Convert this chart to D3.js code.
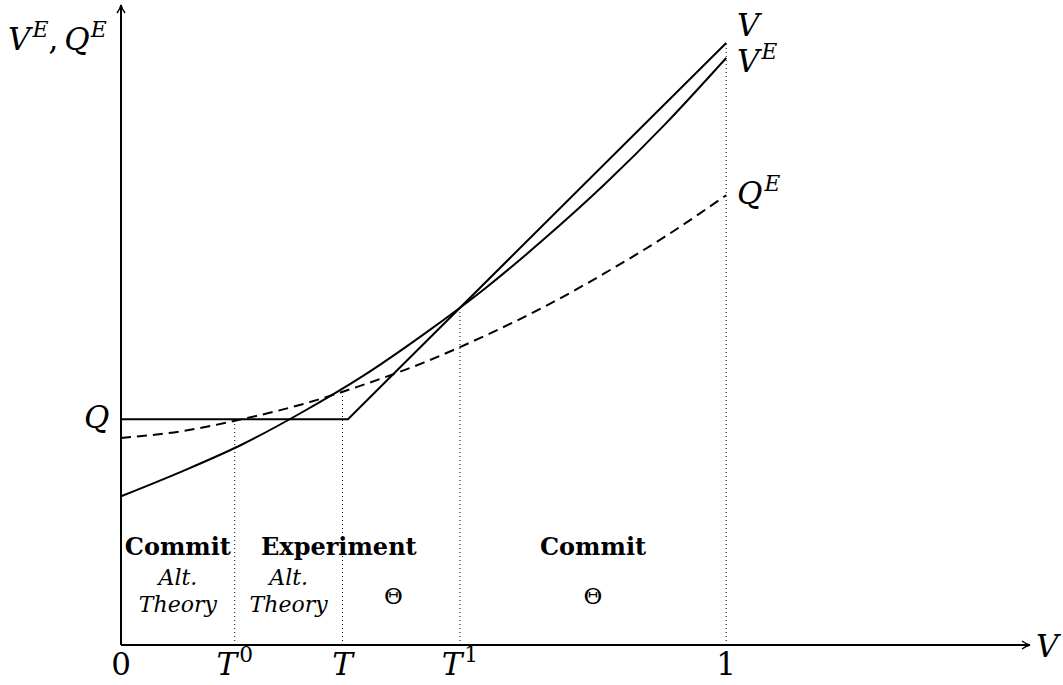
<!DOCTYPE html>
<html>
<head>
<script src="https://cdn.jsdelivr.net/npm/d3@7"></script>
<style>
  body { margin: 0; background: #fff; }
  text { font-family: "DejaVu Serif", serif; fill: #000; }
  .m { font-style: italic; }
</style>
</head>
<body>
<div id="chart"></div>
<script>
// values (x in [0,1], same units on y)
var xs   = [0, 0.1, 0.2, 0.3, 0.4, 0.5, 0.6, 0.7, 0.8, 0.9, 1.0];
var vE   = [0.247, 0.288, 0.333, 0.387, 0.447, 0.516, 0.591, 0.675, 0.766, 0.866, 0.975];
var qE   = [0.344, 0.355, 0.375, 0.400, 0.432, 0.469, 0.513, 0.562, 0.618, 0.679, 0.747];
var Q = 0.375;
var vX = [0, Q, 1];
var vY = [Q, Q, 1];

// thresholds on the x axis and how high their dotted guides go
var tickVals = [0.188, 0.366, 0.560, 1];
var tickNames = [["T","0"], ["T",""], ["T","1"], ["1",""]];
var guideTop = [Q, 0.425, 0.555, 1.0];

var regionX = [0.094, 0.36, 0.78];
var regionHead = ["Commit", "Experiment", "Commit"];

var width = 1063, height = 685;

var svg = d3.select("#chart").append("svg")
    .attr("width", width).attr("height", height);

var x = d3.scaleLinear().domain([0, 1.502]).range([121, 1030]);
var y = d3.scaleLinear().domain([0, 1.063]).range([645, 5]);

svg.append("defs").append("marker")
    .attr("id", "arr").attr("viewBox", "0 0 10 10")
    .attr("refX", 9).attr("refY", 5)
    .attr("markerWidth", 10).attr("markerHeight", 10)
    .attr("markerUnits", "userSpaceOnUse")
    .attr("orient", "auto")
  .append("path")
    .attr("d", "M1,1 Q5,4 9,5 Q5,6 1,9")
    .attr("fill", "none").attr("stroke", "#000").attr("stroke-width", 1.4);

// dotted guides
svg.selectAll(".guide").data(tickVals).enter().append("line")
    .attr("x1", function(d){ return x(d); }).attr("x2", function(d){ return x(d); })
    .attr("y1", y(0)).attr("y2", function(d, i){ return y(guideTop[i]); })
    .attr("stroke", "#000").attr("stroke-width", 1)
    .attr("stroke-dasharray", "1,3");

// curves
var line = d3.line()
    .x(function(d){ return x(d[0]); })
    .y(function(d){ return y(d[1]); });

svg.append("path")
    .attr("d", line.curve(d3.curveLinear)(vX.map(function(d, i){ return [d, vY[i]]; })))
    .attr("fill", "none").attr("stroke", "#000").attr("stroke-width", 2);

svg.append("path")
    .attr("d", line.curve(d3.curveMonotoneX)(xs.map(function(d, i){ return [d, vE[i]]; })))
    .attr("fill", "none").attr("stroke", "#000").attr("stroke-width", 2);

svg.append("path")
    .attr("d", line.curve(d3.curveMonotoneX)(xs.map(function(d, i){ return [d, qE[i]]; })))
    .attr("fill", "none").attr("stroke", "#000").attr("stroke-width", 2)
    .attr("stroke-dasharray", "10,6");

// axes
var xAxis = svg.append("g").attr("transform", "translate(0," + y(0) + ")")
    .call(d3.axisBottom(x).tickValues([]).tickSizeOuter(0));
var yAxis = svg.append("g").attr("transform", "translate(" + x(0) + ",0)")
    .call(d3.axisLeft(y).tickValues([]).tickSizeOuter(0));
// redraw domains so the arrow sits at the far end
yAxis.select(".domain").attr("d", "M0," + y(0) + "V" + y(1.063))
    .attr("stroke-width", 2).attr("marker-end", "url(#arr)");
xAxis.select(".domain").attr("d", "M" + x(0) + ",0H" + x(1.502))
    .attr("stroke-width", 2).attr("marker-end", "url(#arr)");

function mathLabel(g, base, sup, fs) {
  var t = g.append("text").attr("class", "m").style("font-size", fs + "px");
  t.append("tspan").text(base);
  if (sup) {
    var s = t.append("tspan").attr("dx", 2).attr("dy", -fs * 0.42)
        .style("font-size", (fs * 0.7) + "px").text(sup);
    if (/[0-9]/.test(sup)) s.style("font-style", "normal");
  }
  return t;
}

// tick labels
tickNames.forEach(function(n, i) {
  var t = mathLabel(svg, n[0], n[1], 31)
      .attr("x", x(tickVals[i])).attr("y", 675).attr("text-anchor", "middle");
  if (n[0] === "1") t.attr("class", null);
});
svg.append("text").attr("x", x(0)).attr("y", 675).attr("text-anchor", "middle")
    .style("font-size", "31px").text("0");

// axis names
mathLabel(svg, "V", "", 31).attr("x", 1036).attr("y", 657);
var yl = svg.append("text").attr("class", "m").attr("x", 8).attr("y", 50).style("font-size", "31px");
yl.append("tspan").text("V");
yl.append("tspan").attr("dx", 2).attr("dy", -13).style("font-size", "22px").text("E");
yl.append("tspan").attr("dy", 13).style("font-style", "normal").text(",");
yl.append("tspan").attr("dx", 6).text("Q");
yl.append("tspan").attr("dx", 1).attr("dy", -13).style("font-size", "22px").text("E");

mathLabel(svg, "Q", "", 31).attr("x", 84).attr("y", 428);

// curve end labels
mathLabel(svg, "V", "", 31).attr("x", 737).attr("y", 36);
mathLabel(svg, "V", "E", 31).attr("x", 737).attr("y", 72);
mathLabel(svg, "Q", "E", 31).attr("x", 737).attr("y", 204);

// region labels
regionHead.forEach(function(h, i) {
  svg.append("text").attr("x", x(regionX[i])).attr("y", 555)
      .attr("text-anchor", "middle").style("font-size", "24px").style("font-weight", "bold")
      .text(h);
});
[0.094, 0.277].forEach(function(p) {
  svg.append("text").attr("class", "m").attr("x", x(p)).attr("y", 585)
      .attr("text-anchor", "middle").style("font-size", "22px").text("Alt.");
  svg.append("text").attr("class", "m").attr("x", x(p)).attr("y", 612)
      .attr("text-anchor", "middle").style("font-size", "22px").text("Theory");
});
[0.45, 0.78].forEach(function(p) {
  svg.append("text").attr("x", x(p)).attr("y", 604)
      .attr("text-anchor", "middle").style("font-size", "23px").text("\u0398");
});
</script>
</body>
</html>
